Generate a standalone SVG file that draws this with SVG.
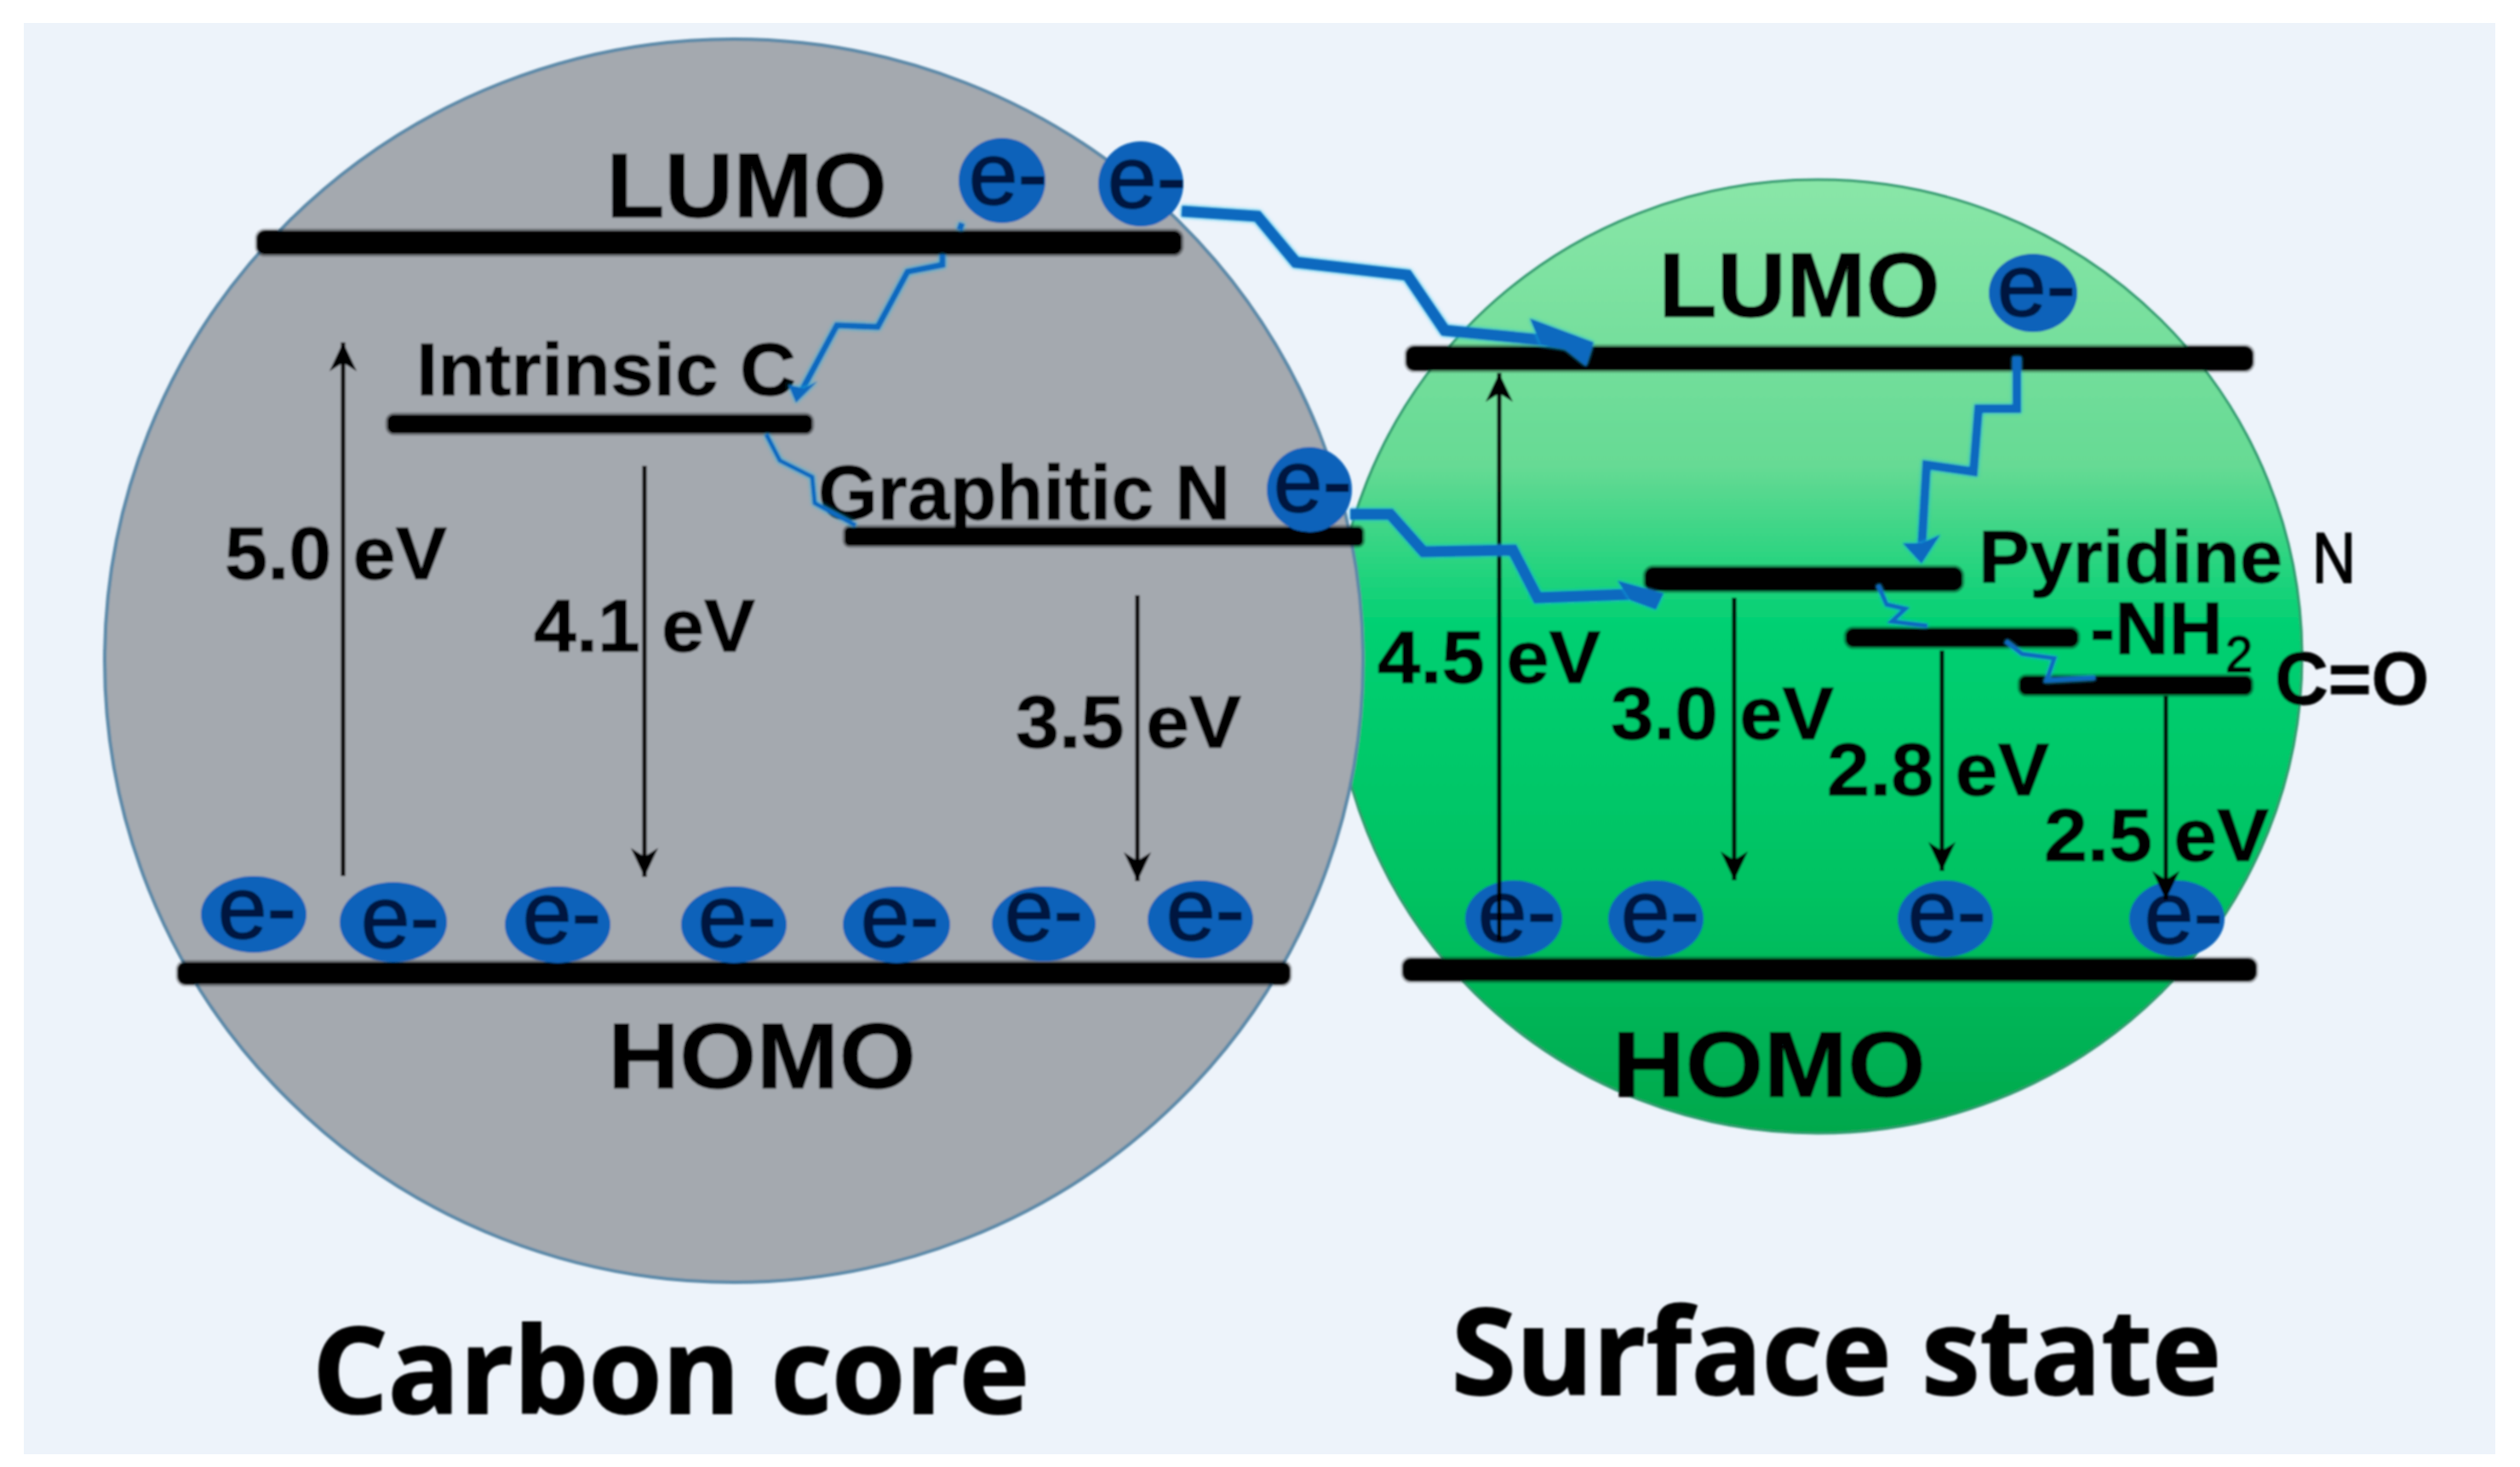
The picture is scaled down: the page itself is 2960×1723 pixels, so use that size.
<svg xmlns="http://www.w3.org/2000/svg" width="2960" height="1723" viewBox="0 0 2960 1723">
<style>
text{font-family:"Liberation Sans",Arial,sans-serif;fill:#060606}
.b{font-weight:700;stroke:#060606;stroke-width:1}
.lv{fill:#000;stroke:#000;stroke-opacity:.3;stroke-width:5}
.el{fill:#0a62ba}
.et{font-size:104px;fill:#03183f;text-anchor:middle;stroke:#03183f;stroke-width:1.5}
.ar{stroke:#050505;stroke-width:5;fill:none;marker-end:url(#ah)}
.sq{stroke:#0a69bf;fill:none;stroke-linejoin:miter;filter:url(#glow)}
.hd{fill:#0a69bf;filter:url(#glow)}
.ttl{font-family:"Open Sans","Liberation Sans",sans-serif;font-weight:700;stroke:#060606;stroke-width:2}
.md{stroke:#060606;stroke-width:2}
</style>
<defs>
<linearGradient id="gr" x1="0" y1="0" x2="0" y2="1">
<stop offset="0" stop-color="#8ae6a8"/>
<stop offset="0.3" stop-color="#66da94"/>
<stop offset="0.47" stop-color="#00d072"/>
<stop offset="0.75" stop-color="#00c262"/>
<stop offset="1" stop-color="#02a84c"/>
</linearGradient>
<filter id="soft" filterUnits="userSpaceOnUse" x="0" y="0" width="2960" height="1723"><feGaussianBlur stdDeviation="0.9"/></filter>
<filter id="glow" filterUnits="userSpaceOnUse" x="0" y="0" width="2960" height="1723"><feDropShadow dx="0" dy="0" stdDeviation="2" flood-color="#19b8e8"/></filter>
<marker id="ah" markerUnits="userSpaceOnUse" markerWidth="36" markerHeight="36" viewBox="0 0 36 36" refX="34" refY="18" orient="auto">
<path d="M0,2 L34,18 L0,34 L10,18Z" fill="#050505"/>
</marker>
</defs>
<rect width="2960" height="1723" fill="#fff"/>
<rect x="28" y="27" width="2903" height="1681" fill="#edf3fa"/>
<g filter="url(#soft)">
<g id="surface-state">
<ellipse cx="2135" cy="771" rx="569" ry="560" fill="url(#gr)" stroke="#2f9a6e" stroke-width="3"/>
</g>
<g id="carbon-core">
<ellipse cx="862" cy="776" rx="739" ry="730" fill="#a4a9af" stroke="#5b89a8" stroke-width="4"/>
</g>
<g id="core-lumo">
<rect class="lv" x="302" y="271" width="1086" height="28" rx="9"/>
<text class="b" x="712" y="255" font-size="108" textLength="330" lengthAdjust="spacingAndGlyphs">LUMO</text>
</g>
<g id="core-homo">
<rect class="lv" x="209" y="1130" width="1306" height="26" rx="9"/>
<text class="b" x="714" y="1278" font-size="110" textLength="362" lengthAdjust="spacingAndGlyphs">HOMO</text>
</g>
<g id="intrinsic-c">
<rect class="lv" x="455" y="487" width="499" height="22" rx="8"/>
<text class="b" x="489" y="464" font-size="88" textLength="446" lengthAdjust="spacingAndGlyphs">Intrinsic C</text>
</g>
<g id="graphitic-n">
<rect class="lv" x="992" y="619" width="609" height="22" rx="6"/>
<text class="b" x="961" y="610" font-size="90" textLength="484" lengthAdjust="spacingAndGlyphs">Graphitic N</text>
</g>
<g id="surface-lumo">
<rect class="lv" x="1652" y="407" width="994" height="28" rx="9"/>
<text class="b" x="1948" y="372" font-size="108" textLength="331" lengthAdjust="spacingAndGlyphs">LUMO</text>
</g>
<g id="surface-homo">
<rect class="lv" x="1648" y="1126" width="1002" height="26" rx="9"/>
<text class="b" x="1894" y="1288" font-size="110" textLength="368" lengthAdjust="spacingAndGlyphs">HOMO</text>
</g>
<g id="pyridine-n">
<rect class="lv" x="1932" y="666" width="373" height="28" rx="10"/>
<text class="b" x="2324" y="684" font-size="88" textLength="357" lengthAdjust="spacingAndGlyphs">Pyridine</text>
<text class="md" x="2716" y="684" font-size="84" textLength="51" lengthAdjust="spacingAndGlyphs">N</text>
</g>
<g id="nh2">
<rect class="lv" x="2168" y="738" width="273" height="22" rx="9"/>
<text class="b" x="2455" y="768" font-size="88" textLength="156" lengthAdjust="spacingAndGlyphs">-NH</text>
<text class="md" x="2614" y="789" font-size="60" textLength="32" lengthAdjust="spacingAndGlyphs">2</text>
</g>
<g id="c-o">
<rect class="lv" x="2372" y="794" width="273" height="22" rx="8"/>
<text class="b" x="2672" y="827" font-size="88" textLength="181" lengthAdjust="spacingAndGlyphs">C=O</text>
</g>
<g id="labels">
<text class="b" x="264" y="680" font-size="88" textLength="261" lengthAdjust="spacingAndGlyphs">5.0 eV</text>
<text class="b" x="627" y="765" font-size="88" textLength="260" lengthAdjust="spacingAndGlyphs">4.1 eV</text>
<text class="b" x="1193" y="878" font-size="88" textLength="265" lengthAdjust="spacingAndGlyphs">3.5 eV</text>
<text class="b" x="1618" y="802" font-size="88" textLength="262" lengthAdjust="spacingAndGlyphs">4.5 eV</text>
<text class="b" x="1892" y="868" font-size="88" textLength="262" lengthAdjust="spacingAndGlyphs">3.0 eV</text>
<text class="b" x="2146" y="934" font-size="88" textLength="261" lengthAdjust="spacingAndGlyphs">2.8 eV</text>
<text class="b" x="2401" y="1011" font-size="88" textLength="264" lengthAdjust="spacingAndGlyphs">2.5 eV</text>
<text class="ttl" x="367" y="1660" font-size="140" textLength="842" lengthAdjust="spacingAndGlyphs">Carbon core</text>
<text class="ttl" x="1705" y="1638" font-size="140" textLength="904" lengthAdjust="spacingAndGlyphs">Surface state</text>
</g>
<g id="electrons">
<g id="e1"><ellipse class="el" cx="1177" cy="212" rx="51" ry="50"/><text class="et" x="1184" y="240">e-</text></g>
<g id="e2"><ellipse class="el" cx="1340" cy="216" rx="50" ry="50"/><text class="et" x="1347" y="244">e-</text></g>
<g id="e3"><ellipse class="el" cx="1538" cy="575" rx="50" ry="50"/><text class="et" x="1542" y="601">e-</text></g>
<g id="e4"><ellipse class="el" cx="2388" cy="344" rx="52" ry="46"/><text class="et" x="2392" y="371">e-</text></g>
<g id="e5"><ellipse class="el" cx="298" cy="1074" rx="62" ry="45"/><text class="et" x="302" y="1102">e-</text></g>
<g id="e6"><ellipse class="el" cx="462" cy="1083" rx="63" ry="47"/><text class="et" x="470" y="1113">e-</text></g>
<g id="e7"><ellipse class="el" cx="655" cy="1086" rx="62" ry="45"/><text class="et" x="660" y="1108">e-</text></g>
<g id="e8"><ellipse class="el" cx="862" cy="1086" rx="62" ry="45"/><text class="et" x="866" y="1112">e-</text></g>
<g id="e9"><ellipse class="el" cx="1053" cy="1086" rx="63" ry="45"/><text class="et" x="1057" y="1112">e-</text></g>
<g id="e10"><ellipse class="el" cx="1226" cy="1085" rx="61" ry="44"/><text class="et" x="1226" y="1105">e-</text></g>
<g id="e11"><ellipse class="el" cx="1410" cy="1080" rx="62" ry="46"/><text class="et" x="1416" y="1104">e-</text></g>
<g id="e12"><ellipse class="el" cx="1778" cy="1079" rx="57" ry="45"/><text class="et" x="1782" y="1106">e-</text></g>
<g id="e13"><ellipse class="el" cx="1945" cy="1079" rx="56" ry="45"/><text class="et" x="1950" y="1106">e-</text></g>
<g id="e14"><ellipse class="el" cx="2285" cy="1079" rx="56" ry="45"/><text class="et" x="2287" y="1106">e-</text></g>
<g id="e15"><ellipse class="el" cx="2557" cy="1079" rx="56" ry="45"/><text class="et" x="2565" y="1108">e-</text></g>
</g>
<g id="connectors">
<line class="ar" x1="403" y1="1029" x2="403" y2="402"/>
<line class="ar" x1="757" y1="547" x2="757" y2="1030"/>
<line class="ar" x1="1336" y1="699" x2="1336" y2="1035"/>
<line class="ar" x1="1761" y1="1105" x2="1761" y2="438"/>
<line class="ar" x1="2037" y1="702" x2="2037" y2="1034"/>
<line class="ar" x1="2281" y1="764" x2="2281" y2="1023"/>
<line class="ar" x1="2544" y1="817" x2="2544" y2="1057"/>
<path class="sq" stroke-width="13" d="M1388,248 L1477,254 L1522,308 L1653,323 L1697,388 L1850,403"/>
<path class="hd" d="M1797,374 L1872,402 L1863,430 L1838,410 L1810,405Z"/>
<path class="sq" stroke-width="13" d="M1586,604 L1633,604 L1672,648 L1777,646 L1806,702 L1915,698"/>
<path class="hd" d="M1900,682 L1954,697 L1945,716 L1915,705Z"/>
<path class="sq" stroke-width="7" d="M1130,262 L1127,270 M1107,299 L1107,311 L1066,319 L1031,384 L983,382 L941,460"/>
<path class="hd" d="M926,452 L935,473 L960,448 L944,456Z"/>
<path class="sq" stroke-width="5" d="M900,510 L916,541 L954,560 L957,591 L1005,617"/>
<path class="sq" stroke-width="10" d="M2369,419 L2369,480 L2324,480 L2318,554 L2263,546 L2257,645"/>
<path class="hd" d="M2235,638 L2257,662 L2279,628 L2257,638Z"/>
<path class="sq" stroke-width="5" d="M2206,687 L2216,710 L2238,715 L2222,730 L2264,735"/>
<path class="sq" stroke-width="5" d="M2356,753 L2375,768 L2413,773 L2404,799 L2461,796"/>
</g>
</g>
</svg>
